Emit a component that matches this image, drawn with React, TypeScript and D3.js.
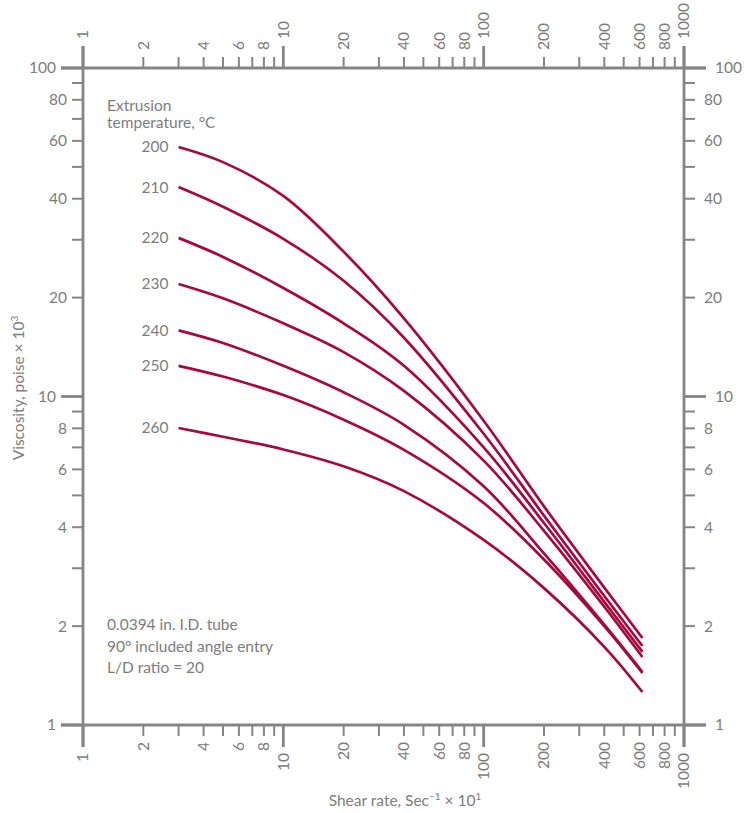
import React, { useEffect } from "react";
import * as d3 from "d3";

// ---- data ----
const shearRates = [3, 5, 10, 20, 40, 100, 200, 400, 620];
const temperatures = [200, 210, 220, 230, 240, 250, 260];
const visc200 = [57.5, 51.7, 40.8, 27.6, 17.3, 8.44, 4.63, 2.62, 1.84];
const visc210 = [43.4, 37.8, 30.2, 22.5, 15.1, 7.7, 4.34, 2.47, 1.74];
const visc220 = [30.4, 26.6, 21.4, 16.7, 12.4, 7.0, 4.12, 2.37, 1.67];
const visc230 = [22.0, 19.9, 16.7, 13.65, 10.4, 6.38, 3.9, 2.29, 1.61];
const visc240 = [15.9, 14.55, 12.4, 10.3, 8.2, 5.33, 3.33, 2.02, 1.45];
const visc250 = [12.4, 11.5, 10.1, 8.5, 6.88, 4.74, 3.19, 2.0, 1.44];
const visc260 = [8.02, 7.54, 6.9, 6.13, 5.15, 3.66, 2.61, 1.73, 1.26];
const seriesValues = [visc200, visc210, visc220, visc230, visc240, visc250, visc260];

const xTicks = [1, 2, 3, 4, 5, 6, 7, 8, 9, 10, 20, 30, 40, 50, 60, 70, 80, 90, 100, 200, 300, 400, 500, 600, 700, 800, 900, 1000];
const xMajor = [1, 10, 100, 1000];
const xLabels = [1, 2, 4, 6, 8, 10, 20, 40, 60, 80, 100, 200, 400, 600, 800, 1000];
const yTicks = [1, 2, 3, 4, 5, 6, 7, 8, 9, 10, 20, 30, 40, 50, 60, 70, 80, 90, 100];
const yMajor = [1, 10, 100];
const yLabels = [1, 2, 4, 6, 8, 10, 20, 40, 60, 80, 100];

const legendTitle = ["Extrusion", "temperature, °C"];
const notes = ["0.0394 in. I.D. tube", "90° included angle entry", "L/D ratio = 20"];

const AXIS = "#858585";
const TEXT = "#7d7d7d";
const LINE = "#a6093d";
const FONT = "Lato, 'Open Sans', sans-serif";
const FS = 15.5;

export default function App() {
  useEffect(() => {
    document.body.style.margin = "0";
  }, []);

  const x = d3.scaleLog().domain([1, 1000]).range([83, 684]);
  const y = d3.scaleLog().domain([1, 100]).range([725, 68]);
  const [x0, x1] = x.range();
  const [y0, y1] = y.range(); // y0 bottom, y1 top

  const majLen = 22;
  const minLen = 11;

  const line = d3
    .line<number>()
    .x((_, i) => x(shearRates[i]))
    .y((d) => y(d))
    .curve(d3.curveCatmullRom.alpha(0.5));

  const isXMajor = (v: number) => xMajor.includes(v);
  const isYMajor = (v: number) => yMajor.includes(v);

  return (
    <svg
      width={756}
      height={813}
      style={{ position: "absolute", left: 0, top: 0, background: "#fff" }}
      fontFamily={FONT}
    >
      {/* frame lines (extend to major tick length) */}
      <g stroke={AXIS} strokeWidth={2.8} fill="none">
        <line x1={x0 - majLen} x2={x1 + majLen} y1={y1} y2={y1} />
        <line x1={x0 - majLen} x2={x1 + majLen} y1={y0} y2={y0} />
        <line x1={x0} x2={x0} y1={y1 - majLen} y2={y0 + majLen} />
        <line x1={x1} x2={x1} y1={y1 - majLen} y2={y0 + majLen} />
      </g>

      {/* ticks */}
      <g stroke={AXIS}>
        {xTicks.map((v) => {
          const len = isXMajor(v) ? majLen : minLen;
          const sw = isXMajor(v) ? 2.8 : 2;
          const px = x(v);
          return (
            <g key={"xt" + v}>
              <line x1={px} x2={px} y1={y1} y2={y1 - len} strokeWidth={sw} />
              <line x1={px} x2={px} y1={y0} y2={y0 + len} strokeWidth={sw} />
            </g>
          );
        })}
        {yTicks.map((v) => {
          const len = isYMajor(v) ? majLen : minLen;
          const sw = isYMajor(v) ? 2.8 : 2;
          const py = y(v);
          return (
            <g key={"yt" + v}>
              <line x1={x0} x2={x0 - len} y1={py} y2={py} strokeWidth={sw} />
              <line x1={x1} x2={x1 + len} y1={py} y2={py} strokeWidth={sw} />
            </g>
          );
        })}
      </g>

      {/* tick labels */}
      <g fill={TEXT} fontSize={FS}>
        {xLabels.map((v) => {
          const len = isXMajor(v) ? majLen : minLen;
          const px = x(v);
          const ty = y1 - len - 7;
          const by = y0 + len + 6;
          return (
            <g key={"xl" + v}>
              <text transform={`translate(${px},${ty}) rotate(-90)`} textAnchor="start" dy="0.35em">
                {v}
              </text>
              <text transform={`translate(${px},${by}) rotate(-90)`} textAnchor="end" dy="0.35em">
                {v}
              </text>
            </g>
          );
        })}
        {yLabels.map((v) => {
          const len = isYMajor(v) ? majLen : minLen;
          const py = y(v);
          return (
            <g key={"yl" + v}>
              <text x={x0 - len - 5} y={py} dy="0.35em" textAnchor="end">
                {v}
              </text>
              <text x={x1 + len + 9} y={py} dy="0.35em" textAnchor="start">
                {v}
              </text>
            </g>
          );
        })}
      </g>

      {/* axis titles */}
      <text transform={`translate(24,388) rotate(-90)`} textAnchor="middle" fill={TEXT} fontSize={FS}>
        Viscosity, poise × 10
        <tspan fontSize={10} dy={-6}>3</tspan>
      </text>
      <text x={405} y={806} textAnchor="middle" fill={TEXT} fontSize={FS}>
        Shear rate, Sec
        <tspan fontSize={10} dy={-6}>−1</tspan>
        <tspan dy={6}> × 10</tspan>
        <tspan fontSize={10} dy={-6}>1</tspan>
      </text>

      {/* legend title */}
      <g fill={TEXT} fontSize={FS}>
        {legendTitle.map((t, i) => (
          <text key={t} x={107} y={111 + i * 17}>
            {t}
          </text>
        ))}
      </g>

      {/* curves */}
      <g fill="none" stroke={LINE} strokeWidth={2.7} strokeLinecap="butt">
        {seriesValues.map((vals, i) => (
          <path key={"c" + temperatures[i]} d={line(vals) || ""} />
        ))}
      </g>

      {/* temperature labels */}
      <g fill={TEXT} fontSize={FS}>
        {seriesValues.map((vals, i) => (
          <text
            key={"tl" + temperatures[i]}
            x={x(shearRates[0]) - 10}
            y={y(vals[0])}
            dy="0.35em"
            textAnchor="end"
          >
            {temperatures[i]}
          </text>
        ))}
      </g>

      {/* notes */}
      <g fill={TEXT} fontSize={FS}>
        {notes.map((t, i) => (
          <text key={t} x={107} y={630 + i * 21.5}>
            {t}
          </text>
        ))}
      </g>
    </svg>
  );
}
